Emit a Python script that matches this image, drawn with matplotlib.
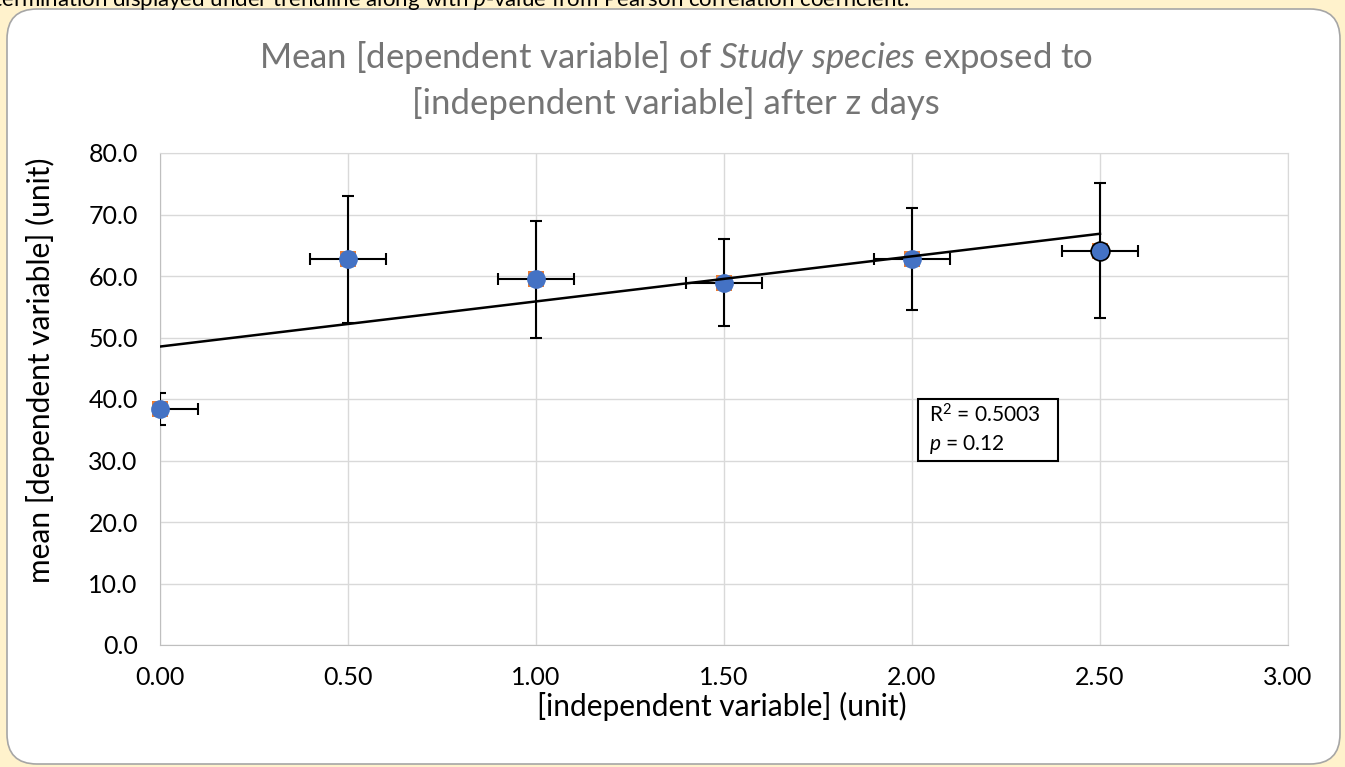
import numpy as np
import matplotlib
matplotlib.use("Agg")
import matplotlib.pyplot as plt
from matplotlib.patches import FancyBboxPatch, Rectangle

# data
x_vals = [0.0, 0.5, 1.0, 1.5, 2.0, 2.5]
y_means = [38.3, 62.7, 59.5, 58.9, 62.7, 64.1]
y_err = [2.6, 10.3, 9.5, 7.1, 8.3, 11.0]
x_err = [0.1, 0.1, 0.1, 0.1, 0.1, 0.1]
x_ticks = [0.0, 0.5, 1.0, 1.5, 2.0, 2.5, 3.0]
y_ticks = [0, 10, 20, 30, 40, 50, 60, 70, 80]

FONT = "Lato"
plt.rcParams["font.family"] = [FONT, "DejaVu Sans"]
plt.rcParams["mathtext.fontset"] = "custom"
plt.rcParams["mathtext.rm"] = FONT
plt.rcParams["mathtext.it"] = FONT + ":italic"

W, H = 1345, 767
fig = plt.figure(figsize=(W / 100, H / 100), dpi=100, facecolor="#FFF2CC")

# caption strip above the chart (cut off at the top edge, as in the source)
fig.text(910 / W, 1 - 6 / H,
         "Coefficient of determination displayed under trendline along with "
         r"$\mathit{p}$-value from Pearson correlation coefficient.",
         ha="right", va="baseline", fontsize=16, color="black")

# white rounded chart area, behind the axes
box = FancyBboxPatch((7, 3), 1333, 755, boxstyle="round,pad=0,rounding_size=30",
                     transform=None, facecolor="white", edgecolor="#A6A6A6", lw=1.2,
                     zorder=-1)
fig.patches.append(box)

ax = fig.add_axes([160 / W, 1 - 645 / H, 1128 / W, (645 - 153) / H])
ax.set_facecolor("white")

ax.errorbar(x_vals, y_means, yerr=y_err, xerr=x_err, fmt="none", ecolor="black",
            elinewidth=1.5, capsize=4, capthick=1.5, zorder=4)
ax.plot(x_vals, y_means, "s", color="#ED7D31", ms=11, mew=0, zorder=5, clip_on=False)
ax.plot(x_vals, y_means, "o", color="#4472C4", ms=13.5, mew=0, zorder=6, clip_on=False)
ax.plot(x_vals[-1:], y_means[-1:], "o", color="#4472C4", mec="black", ms=13.5,
        mew=1.2, zorder=7)

# trendline from least-squares fit of the means
slope, icpt = np.polyfit(x_vals, y_means, 1)
xs = np.array([x_vals[0], x_vals[-1]])
ax.plot(xs, slope * xs + icpt, color="black", lw=1.8, zorder=8)

ax.set_xlim(0, 3)
ax.set_ylim(0, 80)
ax.set_xticks(x_ticks)
ax.set_yticks(y_ticks)
ax.set_xticklabels([f"{v:.2f}" for v in x_ticks])
ax.set_yticklabels([f"{v:.1f}" for v in y_ticks])
ax.tick_params(length=0, labelsize=18, colors="black")
ax.tick_params(axis="x", pad=15)
ax.tick_params(axis="y", pad=16)
ax.grid(True, color="#D9D9D9", lw=1)
ax.set_axisbelow(True)
for s in ax.spines.values():
    s.set_color("#D9D9D9")
ax.spines["bottom"].set_color("#BFBFBF")
ax.spines["left"].set_color("#BFBFBF")

ax.set_xlabel("[independent variable] (unit)", fontsize=21.5)
ax.set_ylabel("mean [dependent variable] (unit)", fontsize=21.5)
ax.xaxis.set_label_coords((722 - 160) / 1128, -(706 - 645) / 492)
ax.yaxis.set_label_coords(-(160 - 40) / 1128, (645 - 370) / 492)
ax.xaxis.label.set_va("center")
ax.yaxis.label.set_va("center")

fig.text(676 / W, 1 - 58 / H,
         r"Mean [dependent variable] of $\mathit{Study\ species}$ exposed to",
         ha="center", va="center", fontsize=25, color="#757575")
fig.text(676 / W, 1 - 103 / H,
         "[independent variable] after z days",
         ha="center", va="center", fontsize=25, color="#757575")

# stats box
ax.add_patch(Rectangle((2.016, 29.9), 0.372, 10.1, facecolor="white",
                       edgecolor="black", lw=1.5, zorder=9))
ax.text(2.045, 37.4, r"R$^2$ = 0.5003", fontsize=15, va="center", zorder=10)
ax.text(2.045, 32.6, r"$\mathit{p}$ = 0.12", fontsize=15, va="center", zorder=10)

fig.savefig("out.png", dpi=100, facecolor=fig.get_facecolor())
